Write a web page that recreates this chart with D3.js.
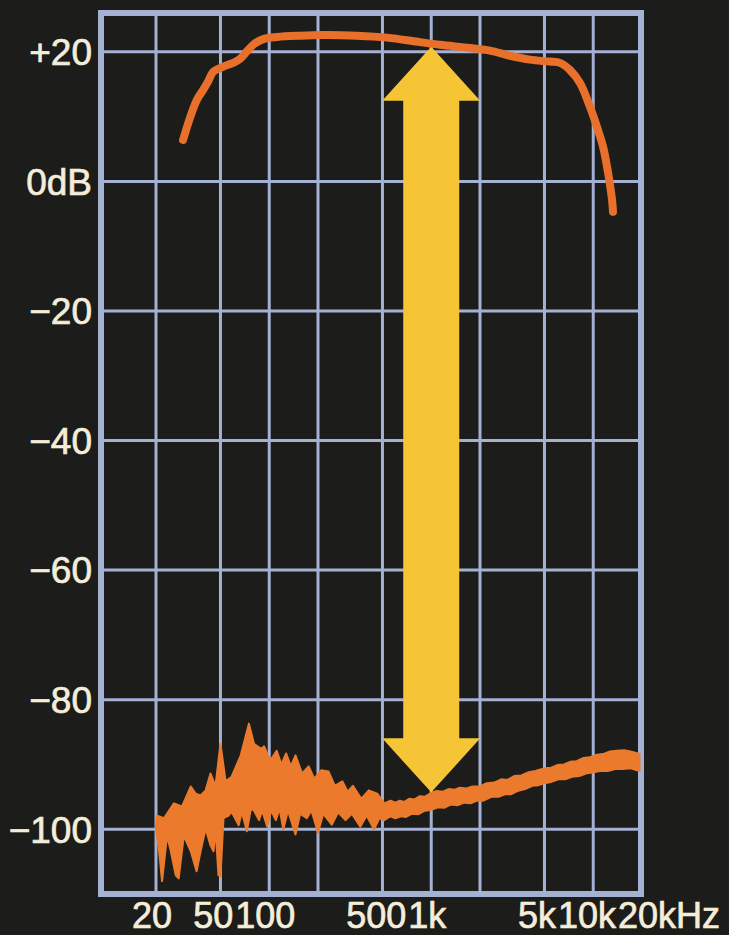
<!DOCTYPE html>
<html>
<head>
<meta charset="utf-8">
<script src="https://cdn.jsdelivr.net/npm/d3@7"></script>
<style>
  html, body { margin: 0; padding: 0; background: #1c1d1b; }
  svg { display: block; }
</style>
</head>
<body>
<div id="chart"></div>
<script>
// --- data -------------------------------------------------------------
// grid
const gridFreqs = [20, 50, 100, 200, 500, 1000, 2000, 5000, 10000];
const gridDb = [20, 0, -20, -40, -60, -80, -100];

// tick labels
const xLabelFreqs = [20, 50, 100, 500, 1000, 5000, 10000, 20000];
const xLabelTexts = ['20', '50', '100', '500', '1k', '5k', '10k', '20kHz'];
const yLabelTexts = ['+20', '0dB', '\u221220', '\u221240', '\u221260', '\u221280', '\u2212100'];

// frequency response (upper trace)
const respFreq = [29.4, 32.4, 35.8, 39.0, 41.9, 45.0, 51.8, 59.8, 66.0, 72.9, 80.5, 92.8, 111.6, 154.9, 214.8,
  348, 533, 852, 1133, 1735, 2306, 3064, 4070, 5408, 6234, 7186, 8286, 9552, 10552, 11492, 12336, 13056, 13244];
const respDb = [6.4, 9.8, 12.6, 14.1, 15.4, 16.9, 17.7, 18.3, 18.9, 20.1, 21.2, 22.0, 22.3, 22.5, 22.6,
  22.5, 22.2, 21.5, 21.1, 20.6, 20.2, 19.4, 18.8, 18.5, 18.3, 17.2, 15.2, 11.5, 8.4, 5.4, 1.4, -2.8, -4.7];

// noise floor, upper edge of the trace
const noiseHiFreq = [20.3, 22.4, 25.8, 28.9, 32.8, 35.1, 37.7, 40.5, 43.4, 46.6, 50, 53.8, 58.6, 66.7, 74.9,
  80.5, 89.1, 93.0, 101.3, 111.2, 118.9, 127.1, 135.9, 145.3, 159.5, 175.1, 189.6, 209.2, 232.4, 254.4,
  282.6, 304.6, 328.4, 370.3, 411.5, 463.9, 512.9, 561,
  600, 640, 680, 730, 790, 850, 910, 1000, 1080, 1180, 1280, 1400, 1500, 1650, 1800, 2000, 2200, 2450,
  2700, 2950, 3250, 3600, 4000, 4400, 5000, 5500, 6000, 6600, 7200, 7900, 8700, 9500, 10500, 11500,
  12700, 14000, 15500, 17000, 19300];
const noiseHiDb = [-97.9, -98.3, -96.0, -96.5, -93.4, -94.5, -94.8, -94.0, -91.4, -93.3, -86.8, -92.6, -91.9, -88.6, -83.7,
  -86.8, -87.6, -87.2, -89.4, -87.9, -90.0, -88.3, -90.3, -88.6, -91.4, -90.3, -92.2, -90.9, -91.1, -93.3,
  -92.6, -94.2, -93.3, -95.3, -94.0, -94.5, -96.0, -95.6,
  -95.9, -95.6, -95.8, -95.3, -95.4, -94.9, -95.0, -94.4, -94.1, -94.2, -93.8, -93.9, -93.6, -93.7, -93.4, -93.4, -92.9, -92.8,
  -92.3, -92.4, -91.8, -91.7, -91.2, -91.0, -90.6, -90.5, -90.1, -90.0, -89.6, -89.5, -89.0, -88.9, -88.5, -88.4,
  -88.0, -87.9, -87.8, -88.0, -88.4];

// noise floor, lower edge of the trace
const noiseLoFreq = [20, 20.9, 21.8, 23.4, 24.7, 26.5, 27.6, 29.7, 32.8, 35.6, 37.7, 40.5, 43.4, 45.3, 46.6, 48.6, 50,
  52.2, 56.1, 58.6, 64.8, 67.7, 72.8, 77.1, 80.5, 86.5, 90.4, 97.2, 102.7, 109.8, 115.8, 122.1, 130.5, 145.3,
  155.2, 170.4, 182.2, 200, 215.5, 243.1, 266.1, 295.6, 323.7, 364.8, 399.1, 443.5, 478.2, 512.9, 560,
  600, 650, 700, 760, 830, 900, 1000, 1100, 1200, 1320, 1450, 1600, 1750, 1900, 2100, 2350, 2600, 2850,
  3100, 3400, 3800, 4200, 4600, 5000, 5500, 6100, 6700, 7400, 8200, 9000, 10000, 11000, 12300, 13700,
  15200, 17000, 19300];
const noiseLoDb = [-99.9, -103.4, -108.0, -101.0, -103.4, -107.1, -107.6, -101.0, -103.4, -106.5, -103.4, -99.9, -102.5, -103.4, -99.9, -107.1, -107.3,
  -98.3, -97.9, -97.3, -99.4, -97.3, -100.3, -96.8, -97.1, -98.6, -97.1, -99.6, -97.1, -98.6, -96.8, -100.0, -97.1, -100.8,
  -97.6, -98.3, -97.1, -100.5, -97.6, -99.3, -97.4, -98.6, -97.6, -99.6, -97.9, -100.0, -98.3, -98.6, -98.0,
  -98.3, -98.0, -98.1, -97.6, -97.7, -97.2, -97.0, -96.6, -96.7, -96.2, -96.3, -95.9, -96.0, -95.6, -95.6, -95.0, -95.0, -94.6,
  -94.6, -94.1, -93.8, -93.3, -93.2, -92.9, -92.7, -92.3, -92.3, -91.9, -91.8, -91.4, -91.2, -91.0, -91.0, -90.7,
  -90.7, -90.6, -91.0];

// double arrow: S/N span measured at 1 kHz
const arrowFreq = 1000;
const arrowTopDb = 20.8;
const arrowBottomDb = -94.3;

// --- chart ------------------------------------------------------------
const W = 729, H = 935;
const frame = { left: 101, right: 641, top: 13, bottom: 894 };
const colors = {
  bg: '#1c1d1b', grid: '#a4b1d2', text: '#f3edd9',
  resp: '#e9702b', noise: '#eb7a2d', arrow: '#f6c535'
};

const svg = d3.select('#chart').append('svg')
  .attr('width', W).attr('height', H)
  .style('background', colors.bg);

const x = d3.scaleLog().domain([20, 20000]).range([156, 642]);
const y = d3.scaleLinear().domain([-110, 26]).range([frame.bottom, frame.top]);

// Grid
const grid = svg.append('g').attr('stroke', colors.grid).attr('stroke-width', 3);
grid.selectAll('line.v').data(gridFreqs).join('line')
  .attr('class', 'v')
  .attr('x1', d => x(d)).attr('x2', d => x(d))
  .attr('y1', frame.top).attr('y2', frame.bottom);
grid.selectAll('line.h').data(gridDb).join('line')
  .attr('class', 'h')
  .attr('x1', frame.left).attr('x2', frame.right)
  .attr('y1', d => y(d)).attr('y2', d => y(d));

svg.append('rect')
  .attr('x', frame.left).attr('y', frame.top)
  .attr('width', frame.right - frame.left).attr('height', frame.bottom - frame.top)
  .attr('fill', 'none').attr('stroke', colors.grid).attr('stroke-width', 6);

// Noise floor trace (band between upper and lower edge)
const hi = noiseHiFreq.map((f, i) => [f, noiseHiDb[i]]);
const lo = noiseLoFreq.map((f, i) => [f, noiseLoDb[i]]).reverse();
const pline = d3.line().x(d => x(d[0])).y(d => y(d[1]));
svg.append('path')
  .attr('d', pline(hi.concat(lo)) + 'Z')
  .attr('fill', colors.noise)
  .attr('stroke', colors.noise)
  .attr('stroke-width', 2)
  .attr('stroke-linejoin', 'round');

// Arrow
const ax = x(arrowFreq), at = y(arrowTopDb), ab = y(arrowBottomDb);
const headW = 49, headL = 54, shaftW = 28;
const arrowPts = [
  [ax, at], [ax + headW, at + headL], [ax + shaftW, at + headL], [ax + shaftW, ab - headL],
  [ax + headW, ab - headL], [ax, ab], [ax - headW, ab - headL], [ax - shaftW, ab - headL],
  [ax - shaftW, at + headL], [ax - headW, at + headL]
];
svg.append('path')
  .attr('d', d3.line()(arrowPts) + 'Z')
  .attr('fill', colors.arrow);

// Frequency response trace
svg.append('path')
  .datum(respFreq.map((f, i) => [f, respDb[i]]))
  .attr('d', d3.line().x(d => x(d[0])).y(d => y(d[1])).curve(d3.curveCatmullRom.alpha(0.5)))
  .attr('fill', 'none')
  .attr('stroke', colors.resp)
  .attr('stroke-width', 8)
  .attr('stroke-linecap', 'round')
  .attr('stroke-linejoin', 'round');

// Y labels
const font = '"Liberation Sans", Arial, Helvetica, sans-serif';
svg.append('g').selectAll('text').data(gridDb).join('text')
  .attr('x', 92).attr('y', d => y(d)).attr('dy', '0.36em')
  .attr('text-anchor', 'end')
  .attr('font-family', font).attr('font-size', 37)
  .attr('fill', colors.text)
  .attr('stroke', colors.text).attr('stroke-width', 0.7)
  .text((d, i) => yLabelTexts[i]);

// X labels: centred on their line, pushed left where they would collide
const xl = svg.append('g').selectAll('text').data(xLabelFreqs).join('text')
  .attr('y', 928)
  .attr('font-family', font).attr('font-size', 36)
  .attr('fill', colors.text)
  .attr('stroke', colors.text).attr('stroke-width', 0.7)
  .text((d, i) => xLabelTexts[i]);

const nodes = xl.nodes();
const widths = nodes.map(n => n.getComputedTextLength());
const lefts = xLabelFreqs.map((f, i) => x(f) - 4 - widths[i] / 2);
lefts[lefts.length - 1] = x(20000) - 24; // "20kHz" hangs past the frame
for (let i = lefts.length - 2; i >= 0; i--) {
  const maxLeft = lefts[i + 1] - 2 - widths[i];
  if (lefts[i] > maxLeft) lefts[i] = maxLeft;
}
xl.attr('x', (d, i) => lefts[i]);
</script>
</body>
</html>
